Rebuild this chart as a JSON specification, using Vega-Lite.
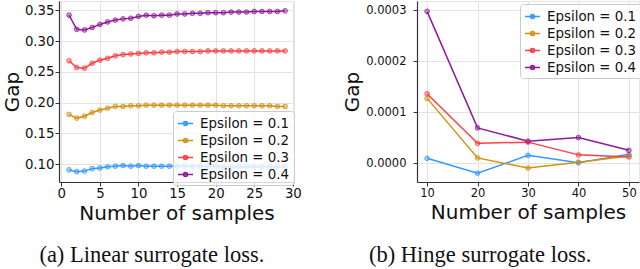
{
  "$schema": "https://vega.github.io/schema/vega-lite/v6.json",
  "padding": {"left": 1, "top": 0, "right": 0, "bottom": 0},
  "spacing": 40,
  "config": {
    "font": "DejaVu Sans",
    "view": {"stroke": "#e6e6e6"},
    "axis": {
      "grid": true, "gridColor": "#e2e2e2", "gridWidth": 1,
      "domainColor": "#333333", "domainWidth": 1.2,
      "tickColor": "#333333", "tickSize": 4,
      "labelColor": "#111111", "titleColor": "#111111",
      "labelFont": "DejaVu Sans", "titleFont": "DejaVu Sans",
      "titleFontWeight": "normal", "titleFontSize": 20,
      "labelPadding": 1, "titlePadding": 1
    }
  },
  "datasets": {
    "linear": [
      {"n": 1, "series": "Epsilon = 0.1", "gap": 0.091}, {"n": 2, "series": "Epsilon = 0.1", "gap": 0.088}, {"n": 3, "series": "Epsilon = 0.1", "gap": 0.089}, {"n": 4, "series": "Epsilon = 0.1", "gap": 0.093}, {"n": 5, "series": "Epsilon = 0.1", "gap": 0.094}, {"n": 6, "series": "Epsilon = 0.1", "gap": 0.096}, {"n": 7, "series": "Epsilon = 0.1", "gap": 0.097}, {"n": 8, "series": "Epsilon = 0.1", "gap": 0.098}, {"n": 9, "series": "Epsilon = 0.1", "gap": 0.097}, {"n": 10, "series": "Epsilon = 0.1", "gap": 0.098},
      {"n": 11, "series": "Epsilon = 0.1", "gap": 0.097}, {"n": 12, "series": "Epsilon = 0.1", "gap": 0.097}, {"n": 13, "series": "Epsilon = 0.1", "gap": 0.097}, {"n": 14, "series": "Epsilon = 0.1", "gap": 0.097}, {"n": 15, "series": "Epsilon = 0.1", "gap": 0.097}, {"n": 16, "series": "Epsilon = 0.1", "gap": 0.097}, {"n": 17, "series": "Epsilon = 0.1", "gap": 0.097}, {"n": 18, "series": "Epsilon = 0.1", "gap": 0.097}, {"n": 19, "series": "Epsilon = 0.1", "gap": 0.097}, {"n": 20, "series": "Epsilon = 0.1", "gap": 0.097},
      {"n": 21, "series": "Epsilon = 0.1", "gap": 0.096}, {"n": 22, "series": "Epsilon = 0.1", "gap": 0.096}, {"n": 23, "series": "Epsilon = 0.1", "gap": 0.096}, {"n": 24, "series": "Epsilon = 0.1", "gap": 0.096}, {"n": 25, "series": "Epsilon = 0.1", "gap": 0.096}, {"n": 26, "series": "Epsilon = 0.1", "gap": 0.096}, {"n": 27, "series": "Epsilon = 0.1", "gap": 0.096}, {"n": 28, "series": "Epsilon = 0.1", "gap": 0.096}, {"n": 29, "series": "Epsilon = 0.1", "gap": 0.096},
      {"n": 1, "series": "Epsilon = 0.2", "gap": 0.181}, {"n": 2, "series": "Epsilon = 0.2", "gap": 0.175}, {"n": 3, "series": "Epsilon = 0.2", "gap": 0.178}, {"n": 4, "series": "Epsilon = 0.2", "gap": 0.184}, {"n": 5, "series": "Epsilon = 0.2", "gap": 0.188}, {"n": 6, "series": "Epsilon = 0.2", "gap": 0.191}, {"n": 7, "series": "Epsilon = 0.2", "gap": 0.194}, {"n": 8, "series": "Epsilon = 0.2", "gap": 0.194}, {"n": 9, "series": "Epsilon = 0.2", "gap": 0.195}, {"n": 10, "series": "Epsilon = 0.2", "gap": 0.195},
      {"n": 11, "series": "Epsilon = 0.2", "gap": 0.196}, {"n": 12, "series": "Epsilon = 0.2", "gap": 0.196}, {"n": 13, "series": "Epsilon = 0.2", "gap": 0.196}, {"n": 14, "series": "Epsilon = 0.2", "gap": 0.196}, {"n": 15, "series": "Epsilon = 0.2", "gap": 0.196}, {"n": 16, "series": "Epsilon = 0.2", "gap": 0.196}, {"n": 17, "series": "Epsilon = 0.2", "gap": 0.196}, {"n": 18, "series": "Epsilon = 0.2", "gap": 0.196}, {"n": 19, "series": "Epsilon = 0.2", "gap": 0.196}, {"n": 20, "series": "Epsilon = 0.2", "gap": 0.196},
      {"n": 21, "series": "Epsilon = 0.2", "gap": 0.195}, {"n": 22, "series": "Epsilon = 0.2", "gap": 0.195}, {"n": 23, "series": "Epsilon = 0.2", "gap": 0.195}, {"n": 24, "series": "Epsilon = 0.2", "gap": 0.195}, {"n": 25, "series": "Epsilon = 0.2", "gap": 0.195}, {"n": 26, "series": "Epsilon = 0.2", "gap": 0.195}, {"n": 27, "series": "Epsilon = 0.2", "gap": 0.195}, {"n": 28, "series": "Epsilon = 0.2", "gap": 0.194}, {"n": 29, "series": "Epsilon = 0.2", "gap": 0.194},
      {"n": 1, "series": "Epsilon = 0.3", "gap": 0.268}, {"n": 2, "series": "Epsilon = 0.3", "gap": 0.257}, {"n": 3, "series": "Epsilon = 0.3", "gap": 0.256}, {"n": 4, "series": "Epsilon = 0.3", "gap": 0.264}, {"n": 5, "series": "Epsilon = 0.3", "gap": 0.269}, {"n": 6, "series": "Epsilon = 0.3", "gap": 0.272}, {"n": 7, "series": "Epsilon = 0.3", "gap": 0.276}, {"n": 8, "series": "Epsilon = 0.3", "gap": 0.278}, {"n": 9, "series": "Epsilon = 0.3", "gap": 0.279}, {"n": 10, "series": "Epsilon = 0.3", "gap": 0.280},
      {"n": 11, "series": "Epsilon = 0.3", "gap": 0.281}, {"n": 12, "series": "Epsilon = 0.3", "gap": 0.281}, {"n": 13, "series": "Epsilon = 0.3", "gap": 0.282}, {"n": 14, "series": "Epsilon = 0.3", "gap": 0.282}, {"n": 15, "series": "Epsilon = 0.3", "gap": 0.283}, {"n": 16, "series": "Epsilon = 0.3", "gap": 0.283}, {"n": 17, "series": "Epsilon = 0.3", "gap": 0.283}, {"n": 18, "series": "Epsilon = 0.3", "gap": 0.283}, {"n": 19, "series": "Epsilon = 0.3", "gap": 0.284}, {"n": 20, "series": "Epsilon = 0.3", "gap": 0.284},
      {"n": 21, "series": "Epsilon = 0.3", "gap": 0.284}, {"n": 22, "series": "Epsilon = 0.3", "gap": 0.284}, {"n": 23, "series": "Epsilon = 0.3", "gap": 0.284}, {"n": 24, "series": "Epsilon = 0.3", "gap": 0.284}, {"n": 25, "series": "Epsilon = 0.3", "gap": 0.284}, {"n": 26, "series": "Epsilon = 0.3", "gap": 0.284}, {"n": 27, "series": "Epsilon = 0.3", "gap": 0.284}, {"n": 28, "series": "Epsilon = 0.3", "gap": 0.284}, {"n": 29, "series": "Epsilon = 0.3", "gap": 0.284},
      {"n": 1, "series": "Epsilon = 0.4", "gap": 0.342}, {"n": 2, "series": "Epsilon = 0.4", "gap": 0.319}, {"n": 3, "series": "Epsilon = 0.4", "gap": 0.318}, {"n": 4, "series": "Epsilon = 0.4", "gap": 0.322}, {"n": 5, "series": "Epsilon = 0.4", "gap": 0.327}, {"n": 6, "series": "Epsilon = 0.4", "gap": 0.331}, {"n": 7, "series": "Epsilon = 0.4", "gap": 0.334}, {"n": 8, "series": "Epsilon = 0.4", "gap": 0.336}, {"n": 9, "series": "Epsilon = 0.4", "gap": 0.337}, {"n": 10, "series": "Epsilon = 0.4", "gap": 0.340},
      {"n": 11, "series": "Epsilon = 0.4", "gap": 0.342}, {"n": 12, "series": "Epsilon = 0.4", "gap": 0.341}, {"n": 13, "series": "Epsilon = 0.4", "gap": 0.342}, {"n": 14, "series": "Epsilon = 0.4", "gap": 0.342}, {"n": 15, "series": "Epsilon = 0.4", "gap": 0.344}, {"n": 16, "series": "Epsilon = 0.4", "gap": 0.344}, {"n": 17, "series": "Epsilon = 0.4", "gap": 0.345}, {"n": 18, "series": "Epsilon = 0.4", "gap": 0.345}, {"n": 19, "series": "Epsilon = 0.4", "gap": 0.346}, {"n": 20, "series": "Epsilon = 0.4", "gap": 0.346},
      {"n": 21, "series": "Epsilon = 0.4", "gap": 0.346}, {"n": 22, "series": "Epsilon = 0.4", "gap": 0.347}, {"n": 23, "series": "Epsilon = 0.4", "gap": 0.347}, {"n": 24, "series": "Epsilon = 0.4", "gap": 0.347}, {"n": 25, "series": "Epsilon = 0.4", "gap": 0.348}, {"n": 26, "series": "Epsilon = 0.4", "gap": 0.348}, {"n": 27, "series": "Epsilon = 0.4", "gap": 0.348}, {"n": 28, "series": "Epsilon = 0.4", "gap": 0.348}, {"n": 29, "series": "Epsilon = 0.4", "gap": 0.349}
    ],
    "hinge": [
      {"n": 10, "series": "Epsilon = 0.1", "gap": 0.0000092}, {"n": 20, "series": "Epsilon = 0.1", "gap": -0.00002}, {"n": 30, "series": "Epsilon = 0.1", "gap": 0.000015}, {"n": 40, "series": "Epsilon = 0.1", "gap": 0.0000005}, {"n": 50, "series": "Epsilon = 0.1", "gap": 0.000017},
      {"n": 10, "series": "Epsilon = 0.2", "gap": 0.000127}, {"n": 20, "series": "Epsilon = 0.2", "gap": 0.00001}, {"n": 30, "series": "Epsilon = 0.2", "gap": -0.00001}, {"n": 40, "series": "Epsilon = 0.2", "gap": 0.0000015}, {"n": 50, "series": "Epsilon = 0.2", "gap": 0.000014},
      {"n": 10, "series": "Epsilon = 0.3", "gap": 0.000136}, {"n": 20, "series": "Epsilon = 0.3", "gap": 0.0000386}, {"n": 30, "series": "Epsilon = 0.3", "gap": 0.000041}, {"n": 40, "series": "Epsilon = 0.3", "gap": 0.000016}, {"n": 50, "series": "Epsilon = 0.3", "gap": 0.000012},
      {"n": 10, "series": "Epsilon = 0.4", "gap": 0.000298}, {"n": 20, "series": "Epsilon = 0.4", "gap": 0.000069}, {"n": 30, "series": "Epsilon = 0.4", "gap": 0.000043}, {"n": 40, "series": "Epsilon = 0.4", "gap": 0.00005}, {"n": 50, "series": "Epsilon = 0.4", "gap": 0.000025}
    ]
  },
  "resolve": {"legend": {"color": "independent"}},
  "hconcat": [
    {
      "width": 235, "height": 181,
      "title": {"text": "(a) Linear surrogate loss.", "orient": "bottom", "frame": "bounds", "anchor": "middle", "font": "Liberation Serif", "fontSize": 22.5, "fontWeight": "normal", "color": "#111111", "offset": 21},
      "data": {"name": "linear"},
      "encoding": {
        "x": {"field": "n", "type": "quantitative", "scale": {"domain": [-0.3, 30.15], "nice": false, "zero": false},
              "axis": {"values": [0, 5, 10, 15, 20, 25, 30], "title": "Number of samples", "labelFontSize": 13.3, "labelFlush": false, "labelPadding": 0, "titlePadding": 4}},
        "y": {"field": "gap", "type": "quantitative", "scale": {"domain": [0.0713, 0.365], "nice": false, "zero": false},
              "axis": {"values": [0.10, 0.15, 0.20, 0.25, 0.30, 0.35], "format": ".2f", "title": "Gap", "labelFontSize": 13.3, "titlePadding": 2}},
        "color": {"field": "series", "type": "nominal",
                  "scale": {"domain": ["Epsilon = 0.1", "Epsilon = 0.2", "Epsilon = 0.3", "Epsilon = 0.4"], "range": ["#3399ff", "#d4900f", "#ff4040", "#8e1a99"]},
                  "legend": {"orient": "none", "legendX": 114, "legendY": 110, "title": null, "labelFont": "DejaVu Sans", "labelFontSize": 13.4, "labelColor": "#111111", "padding": 4, "rowPadding": 2, "labelOffset": 6,
                             "symbolType": "M-1,0H1M-0.27,0A0.27,0.27,0,1,1,0.27,0A0.27,0.27,0,1,1,-0.27,0Z", "symbolSize": 225, "symbolStrokeWidth": 1.5,
                             "fillColor": "rgba(255,255,255,0.8)", "strokeColor": "#cccccc", "cornerRadius": 3,
                             "encode": {"symbols": {"update": {"fill": {"scale": "color", "field": "value"}, "fillOpacity": {"value": 0.5}, "stroke": {"scale": "color", "field": "value"}, "strokeWidth": {"value": 1.5}, "opacity": {"value": 1}}}}}}
      },
      "layer": [
        {"mark": {"type": "line", "strokeWidth": 1.5}},
        {"mark": {"type": "point", "filled": true, "size": 22, "opacity": 0.4}},
        {"mark": {"type": "point", "filled": false, "size": 22, "strokeWidth": 1, "opacity": 0.8}}
      ]
    },
    {
      "width": 222, "height": 181,
      "title": {"text": "(b) Hinge surrogate loss.", "orient": "bottom", "frame": "bounds", "anchor": "middle", "font": "Liberation Serif", "fontSize": 22.5, "fontWeight": "normal", "color": "#111111", "offset": 21, "dx": -12},
      "data": {"name": "hinge"},
      "encoding": {
        "x": {"field": "n", "type": "quantitative", "scale": {"domain": [8, 52], "nice": false, "zero": false},
              "axis": {"values": [10, 20, 30, 40, 50], "title": "Number of samples", "labelFontSize": 11.5, "labelFlush": false, "labelPadding": 1, "titlePadding": 4}},
        "y": {"field": "gap", "type": "quantitative", "scale": {"domain": [-0.0000373, 0.0003183], "nice": false, "zero": false},
              "axis": {"values": [0, 0.0001, 0.0002, 0.0003], "format": ".4f", "title": "Gap", "labelFontSize": 11.5, "labelPadding": 7, "titlePadding": 3}},
        "color": {"field": "series", "type": "nominal",
                  "scale": {"domain": ["Epsilon = 0.1", "Epsilon = 0.2", "Epsilon = 0.3", "Epsilon = 0.4"], "range": ["#3399ff", "#d4900f", "#ff4040", "#8e1a99"]},
                  "legend": {"orient": "none", "legendX": 103, "legendY": 3, "title": null, "labelFont": "DejaVu Sans", "labelFontSize": 13.4, "labelColor": "#111111", "padding": 4, "rowPadding": 2, "labelOffset": 6,
                             "symbolType": "M-1,0H1M-0.27,0A0.27,0.27,0,1,1,0.27,0A0.27,0.27,0,1,1,-0.27,0Z", "symbolSize": 225, "symbolStrokeWidth": 1.5,
                             "fillColor": "rgba(255,255,255,0.8)", "strokeColor": "#cccccc", "cornerRadius": 3,
                             "encode": {"symbols": {"update": {"fill": {"scale": "color", "field": "value"}, "fillOpacity": {"value": 0.5}, "stroke": {"scale": "color", "field": "value"}, "strokeWidth": {"value": 1.5}, "opacity": {"value": 1}}}}}}
      },
      "layer": [
        {"mark": {"type": "line", "strokeWidth": 1.5}},
        {"mark": {"type": "point", "filled": true, "size": 22, "opacity": 0.4}},
        {"mark": {"type": "point", "filled": false, "size": 22, "strokeWidth": 1, "opacity": 0.8}}
      ]
    }
  ]
}
